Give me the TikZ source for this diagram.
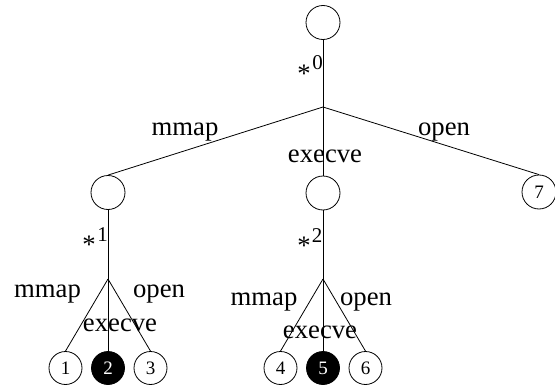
\documentclass[tikz,border=0pt]{standalone}
\usepackage{fontspec}
\setmainfont{Liberation Serif}
\begin{document}
\begin{tikzpicture}[x=1pt,y=-1pt,line width=0.8pt,
  nd/.style={circle,draw,line width=0.8pt,minimum size=34pt,inner sep=0pt,font=\fontsize{19}{21}\selectfont},
  lf/.style={nd,minimum size=33pt},
  lfb/.style={lf,fill=black,text=white},
  lbl/.style={anchor=base,inner sep=0pt,font=\fontsize{26.7}{30}\selectfont},
  ast/.style={anchor=base,inner sep=0pt,font=\fontsize{26.7}{30}\selectfont},
  sup/.style={anchor=base,inner sep=0pt,font=\fontsize{21}{24}\selectfont}]
\useasboundingbox (0,0) rectangle (555,388);
% level 0
\node[nd] (r) at (323,22.5) {};
\coordinate (j0) at (323,107);
\node[ast] (s0) at (304,82) {*};
\node[sup] (n0) at (317.5,69) {0};
% level 1
\node[nd] (a) at (108,192.5) {};
\node[nd] (b) at (323,193) {};
\node[nd] (c) at (539,192) {7};
\draw (r.south) -- (j0);
\draw (j0) -- (a.north);
\draw (j0) -- (b.north);
\draw (j0) -- (c.north);
\node[lbl] (l0m) at (185,135) {mmap};
\node[lbl] (l0e) at (325,162) {execve};
\node[lbl] (l0o) at (444,135) {open};
% left subtree
\coordinate (j1) at (108,279);
\node[ast] (s1) at (89,253) {*};
\node[sup] (n1) at (102.5,241) {1};
\node[lf] (x1) at (65.5,368) {1};
\node[lfb] (x2) at (108,368) {2};
\node[lf] (x3) at (150.5,368) {3};
\draw (a.south) -- (j1);
\draw (j1) -- (x1.north);
\draw (j1) -- (x2.north);
\draw (j1) -- (x3.north);
\node[lbl] (l1m) at (47.5,297) {mmap};
\node[lbl] (l1e) at (120,331) {execve};
\node[lbl] (l1o) at (159,297) {open};
% middle subtree
\coordinate (j2) at (323,279);
\node[ast] (s2) at (304,254) {*};
\node[sup] (n2) at (317,242) {2};
\node[lf] (x4) at (280.5,368) {4};
\node[lfb] (x5) at (323,368) {5};
\node[lf] (x6) at (365.5,368) {6};
\draw (b.south) -- (j2);
\draw (j2) -- (x4.north);
\draw (j2) -- (x5.north);
\draw (j2) -- (x6.north);
\node[lbl] (l2m) at (264,305) {mmap};
\node[lbl] (l2e) at (320,338) {execve};
\node[lbl] (l2o) at (366,305) {open};
\end{tikzpicture}
\end{document}
